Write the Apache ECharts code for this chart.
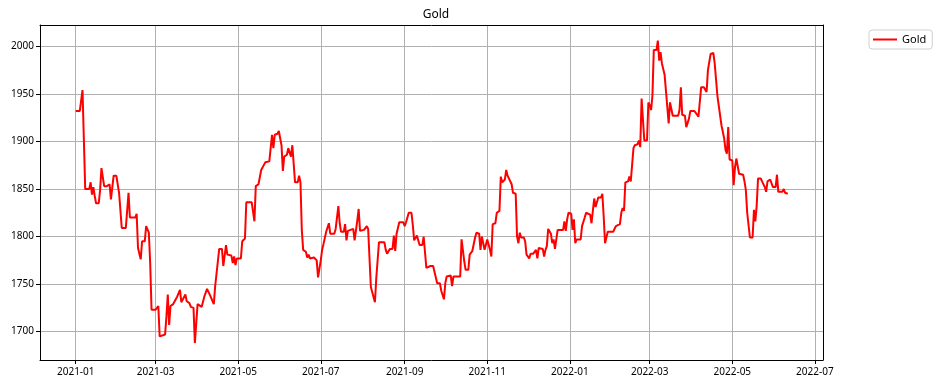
<!DOCTYPE html>
<html>
<head>
<meta charset="utf-8">
<script src="https://cdn.jsdelivr.net/npm/echarts@6/dist/echarts.min.js"></script>
<style>html,body{margin:0;padding:0;background:#fff}#chart{width:939px;height:386px}</style>
</head>
<body>
<div id="chart"></div>
<script>
const seriesName = 'Gold';
const dates = [
'2021-01-01','2021-01-04','2021-01-06','2021-01-08','2021-01-11','2021-01-12','2021-01-13','2021-01-14','2021-01-15','2021-01-16',
'2021-01-18','2021-01-19','2021-01-20','2021-01-22','2021-01-24','2021-01-26','2021-01-27','2021-01-29','2021-01-31','2021-02-02',
'2021-02-04','2021-02-07','2021-02-09','2021-02-10','2021-02-14','2021-02-15','2021-02-16','2021-02-17','2021-02-18','2021-02-19',
'2021-02-21','2021-02-22','2021-02-24','2021-02-25','2021-02-26','2021-03-01','2021-03-03','2021-03-04','2021-03-08','2021-03-09',
'2021-03-10','2021-03-11','2021-03-12','2021-03-14','2021-03-15','2021-03-17','2021-03-19','2021-03-20','2021-03-21','2021-03-23',
'2021-03-24','2021-03-26','2021-03-27','2021-03-29','2021-03-30','2021-04-01','2021-04-04','2021-04-06','2021-04-08','2021-04-10',
'2021-04-11','2021-04-13','2021-04-14','2021-04-15','2021-04-17','2021-04-19','2021-04-20','2021-04-22','2021-04-23','2021-04-26',
'2021-04-27','2021-04-28','2021-04-29','2021-04-30','2021-05-03','2021-05-04','2021-05-06','2021-05-07','2021-05-11','2021-05-13',
'2021-05-14','2021-05-16','2021-05-18','2021-05-19','2021-05-21','2021-05-24','2021-05-26','2021-05-27','2021-05-28','2021-05-30',
'2021-05-31','2021-06-02','2021-06-03','2021-06-04','2021-06-06','2021-06-07','2021-06-09','2021-06-10','2021-06-12','2021-06-14',
'2021-06-15','2021-06-16','2021-06-17','2021-06-18','2021-06-20','2021-06-21','2021-06-22','2021-06-23','2021-06-24','2021-06-26',
'2021-06-28','2021-06-29','2021-07-01','2021-07-02','2021-07-03','2021-07-04','2021-07-05','2021-07-06','2021-07-07','2021-07-08',
'2021-07-11','2021-07-12','2021-07-14','2021-07-15','2021-07-16','2021-07-18','2021-07-19','2021-07-20','2021-07-21','2021-07-22',
'2021-07-25','2021-07-26','2021-07-28','2021-07-29','2021-07-30','2021-08-02','2021-08-04','2021-08-05','2021-08-07','2021-08-08',
'2021-08-10','2021-08-11','2021-08-12','2021-08-13','2021-08-17','2021-08-18','2021-08-19','2021-08-21','2021-08-23','2021-08-24',
'2021-08-25','2021-08-26','2021-08-28','2021-08-31','2021-09-01','2021-09-02','2021-09-04','2021-09-06','2021-09-07','2021-09-08',
'2021-09-09','2021-09-10','2021-09-12','2021-09-14','2021-09-15','2021-09-17','2021-09-20','2021-09-22','2021-09-24','2021-09-25',
'2021-09-27','2021-09-28','2021-09-30','2021-10-01','2021-10-02','2021-10-05','2021-10-06','2021-10-07','2021-10-10','2021-10-12',
'2021-10-13','2021-10-15','2021-10-16','2021-10-18','2021-10-19','2021-10-21','2021-10-23','2021-10-24','2021-10-26','2021-10-27',
'2021-10-28','2021-10-30','2021-10-31','2021-11-01','2021-11-03','2021-11-04','2021-11-05','2021-11-07','2021-11-08','2021-11-10',
'2021-11-11','2021-11-12','2021-11-13','2021-11-14','2021-11-15','2021-11-16','2021-11-17','2021-11-19','2021-11-20','2021-11-22',
'2021-11-23','2021-11-24','2021-11-25','2021-11-26','2021-11-28','2021-11-29','2021-11-30','2021-12-02','2021-12-03','2021-12-05',
'2021-12-07','2021-12-08','2021-12-09','2021-12-10','2021-12-12','2021-12-13','2021-12-14','2021-12-15','2021-12-16','2021-12-18',
'2021-12-19','2021-12-20','2021-12-21','2021-12-23','2021-12-25','2021-12-27','2021-12-28','2021-12-29','2021-12-30','2021-12-31',
'2022-01-02','2022-01-03','2022-01-04','2022-01-05','2022-01-06','2022-01-09','2022-01-10','2022-01-12','2022-01-13','2022-01-16',
'2022-01-17','2022-01-18','2022-01-19','2022-01-20','2022-01-22','2022-01-24','2022-01-25','2022-01-26','2022-01-27','2022-01-29',
'2022-02-02','2022-02-04','2022-02-05','2022-02-07','2022-02-08','2022-02-09','2022-02-10','2022-02-11','2022-02-13','2022-02-14',
'2022-02-15','2022-02-17','2022-02-18','2022-02-20','2022-02-21','2022-02-22','2022-02-23','2022-02-25','2022-02-27','2022-02-28',
'2022-03-01','2022-03-02','2022-03-03','2022-03-04','2022-03-06','2022-03-07','2022-03-08','2022-03-09','2022-03-10','2022-03-12',
'2022-03-13','2022-03-14','2022-03-15','2022-03-16','2022-03-18','2022-03-22','2022-03-23','2022-03-24','2022-03-25','2022-03-27',
'2022-03-28','2022-03-30','2022-03-31','2022-04-03','2022-04-06','2022-04-07','2022-04-08','2022-04-10','2022-04-12','2022-04-13',
'2022-04-14','2022-04-15','2022-04-17','2022-04-18','2022-04-20','2022-04-21','2022-04-23','2022-04-24','2022-04-25','2022-04-26',
'2022-04-27','2022-04-28','2022-04-29','2022-05-01','2022-05-02','2022-05-03','2022-05-04','2022-05-06','2022-05-09','2022-05-10',
'2022-05-11','2022-05-12','2022-05-14','2022-05-16','2022-05-17','2022-05-18','2022-05-19','2022-05-20','2022-05-22','2022-05-23',
'2022-05-25','2022-05-26','2022-05-27','2022-05-29','2022-05-30','2022-05-31','2022-06-02','2022-06-03','2022-06-04','2022-06-07',
'2022-06-08','2022-06-09','2022-06-11'
];
const values = [
1932,1932,1954,1850,1850,1857,1844,1852,1843,1835,
1835,1849,1872,1853,1853,1855,1839,1864,1864,1846,
1809,1809,1846,1820,1820,1824,1788,1788,1776,1795,
1795,1811,1804,1772,1723,1723,1727,1695,1697,1716,
1739,1707,1727,1729,1728,1737,1744,1731,1731,1739,
1732,1730,1726,1725,1688,1729,1726,1737,1745,1739,
1738,1729,1748,1750,1787,1787,1769,1791,1781,1780,
1772,1779,1770,1777,1777,1795,1798,1836,1836,1816,
1853,1855,1870,1872,1878,1879,1907,1893,1907,1908,
1911,1896,1869,1884,1886,1893,1884,1896,1857,1857,
1864,1857,1807,1786,1784,1778,1781,1777,1779,1778,
1775,1757,1775,1786,1792,1793,1805,1805,1814,1803,
1803,1808,1832,1814,1805,1805,1813,1796,1806,1808,
1808,1796,1817,1829,1806,1807,1811,1808,1747,1746,
1731,1756,1757,1794,1794,1786,1782,1787,1787,1801,
1785,1803,1815,1815,1811,1815,1825,1825,1812,1796,
1798,1801,1791,1791,1800,1767,1769,1769,1757,1751,
1751,1743,1734,1751,1758,1759,1748,1758,1758,1758,
1797,1774,1765,1765,1781,1785,1799,1804,1803,1786,
1800,1786,1786,1797,1786,1779,1813,1814,1825,1827,
1863,1857,1859,1860,1870,1864,1866,1855,1846,1845,
1800,1793,1804,1799,1799,1795,1781,1777,1782,1782,
1786,1777,1788,1787,1787,1779,1786,1790,1808,1803,
1793,1797,1787,1807,1807,1807,1816,1806,1818,1825,
1824,1807,1818,1793,1797,1797,1811,1820,1825,1823,
1814,1814,1840,1831,1841,1841,1845,1821,1793,1805,
1805,1811,1813,1813,1825,1830,1827,1857,1858,1863,
1858,1893,1896,1897,1901,1894,1945,1901,1901,1941,
1938,1933,1948,1996,1996,2006,1985,1994,1982,1970,
1970,1936,1919,1941,1927,1927,1933,1957,1928,1927,
1915,1924,1932,1932,1926,1927,1957,1957,1952,1975,
1975,1992,1993,1982,1948,1946,1917,1916,1903,1891,
1887,1915,1881,1880,1854,1873,1882,1866,1865,1858,
1849,1825,1799,1799,1828,1816,1832,1861,1861,1858,
1852,1847,1858,1860,1860,1852,1852,1865,1847,1847,
1850,1846,1845
];
const yTicks = [1700, 1750, 1800, 1850, 1900, 1950, 2000];

const DAY = 86400000;
const base = new Date(2021, 0, 1).getTime();
const xMin = base - 26.4 * DAY;
const xMax = base + 552 * DAY;
const yMin = 1670.2, yMax = 2022.4;

const chart = echarts.init(document.getElementById('chart'), null, {renderer: 'canvas'});
const font = 'Noto Sans';
chart.setOption({
  animation: false,
  backgroundColor: '#fff',
  title: {
    text: 'Gold', left: 431, top: 4, textAlign: 'center',
    textStyle: {fontFamily: font, fontSize: 12, fontWeight: 'normal', color: '#000'}
  },
  legend: {
    data: [{name: seriesName, icon: 'rect'}],
    left: 869, top: 30,
    itemWidth: 24, itemHeight: 2, itemGap: 6,
    padding: [4, 6, 4, 4],
    borderColor: '#d0d0d0', borderWidth: 1, borderRadius: 3,
    textStyle: {fontFamily: font, fontSize: 11, color: '#000'}
  },
  grid: {left: 40, right: 116, top: 25, bottom: 26, containLabel: false, show: false},
  xAxis: [{
    type: 'time', min: xMin, max: xMax, splitNumber: 8,
    axisLine: {show: true, onZero: false, lineStyle: {color: '#000', width: 1}},
    axisTick: {show: true, length: 4, lineStyle: {color: '#000'}},
    axisLabel: {
      fontFamily: font, fontSize: 10, color: '#000', margin: 7, hideOverlap: false,
      formatter: function (v) {
        const d = new Date(v);
        if (d.getDate() !== 1 || d.getHours() !== 0 || d.getMinutes() !== 0) return '';
        return d.getFullYear() + '-' + String(d.getMonth() + 1).padStart(2, '0');
      }
    },
    splitLine: {show: true, lineStyle: {color: '#b0b0b0', width: 1}}
  }, {
    type: 'value', position: 'top', min: 0, max: 1,
    axisLine: {show: true, onZero: false, lineStyle: {color: '#000'}}, axisTick: {show: false},
    axisLabel: {show: false}, splitLine: {show: false}
  }],
  yAxis: [{
    type: 'value', min: yMin, max: yMax, splitNumber: 7,
    axisLine: {show: true, lineStyle: {color: '#000', width: 1}},
    axisTick: {show: true, length: 4, lineStyle: {color: '#000'}, customValues: yTicks},
    axisLabel: {
      fontFamily: font, fontSize: 10, color: '#000', margin: 6, customValues: yTicks,
      formatter: function (v) { return yTicks.indexOf(Math.round(v * 1000) / 1000) >= 0 ? String(v) : ''; }
    },
    splitLine: {show: true, lineStyle: {color: '#b0b0b0', width: 1}}
  }, {
    type: 'value', position: 'right', min: 0, max: 1,
    axisLine: {show: true, onZero: false, lineStyle: {color: '#000'}}, axisTick: {show: false},
    axisLabel: {show: false}, splitLine: {show: false}
  }],
  series: [{
    name: seriesName, type: 'line', xAxisIndex: 0, yAxisIndex: 0,
    data: dates.map((d, i) => [d, values[i]]),
    showSymbol: false, symbol: 'none',
    lineStyle: {color: '#ff0000', width: 2},
    itemStyle: {color: '#ff0000'}
  }]
});
</script>
</body>
</html>
